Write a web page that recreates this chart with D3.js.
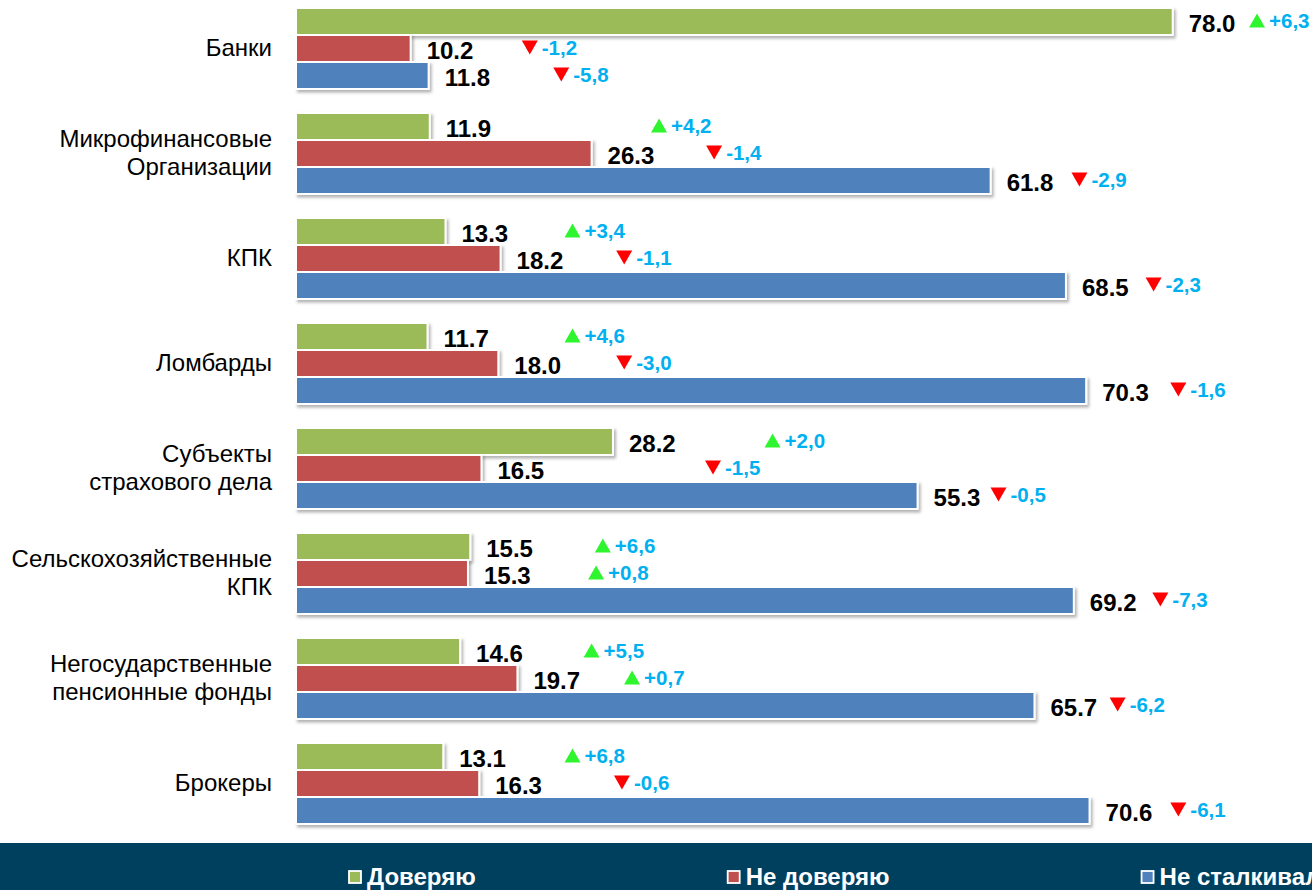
<!DOCTYPE html>
<html>
<head>
<meta charset="utf-8">
<script src="https://cdn.jsdelivr.net/npm/d3@7"></script>
<style>
  html, body { margin: 0; padding: 0; background: #fff; }
  svg { display: block; font-family: "Liberation Sans", Arial, sans-serif; }
</style>
</head>
<body>
<svg id="chart" width="1312" height="890"></svg>
<script>
// ---- data ----
const categories = [
  ["Банки"],
  ["Микрофинансовые", "Организации"],
  ["КПК"],
  ["Ломбарды"],
  ["Субъекты", "страхового дела"],
  ["Сельскохозяйственные", "КПК"],
  ["Негосударственные", "пенсионные фонды"],
  ["Брокеры"]
];
const seriesNames = ["Доверяю", "Не доверяю", "Не сталкивался"];
const trust    = [78.0, 11.9, 13.3, 11.7, 28.2, 15.5, 14.6, 13.1];
const distrust = [10.2, 26.3, 18.2, 18.0, 16.5, 15.3, 19.7, 16.3];
const notMet   = [11.8, 61.8, 68.5, 70.3, 55.3, 69.2, 65.7, 70.6];
// change vs previous period
const trustDelta    = [6.3, 4.2, 3.4, 4.6, 2.0, 6.6, 5.5, 6.8];
const distrustDelta = [-1.2, -1.4, -1.1, -3.0, -1.5, 0.8, 0.7, -0.6];
const notMetDelta   = [-5.8, -2.9, -2.3, -1.6, -0.5, -7.3, -6.2, -6.1];

// ---- layout (annotation anchor, in axis units) ----
const trustDeltaAt    = [85.5, 32.3, 24.6, 24.6, 42.4, 27.3, 26.3, 24.6];
const distrustDeltaAt = [20.8, 37.2, 29.2, 29.2, 37.1, 26.7, 29.9, 29.0];
const notMetDeltaAt   = [23.6, 69.7, 76.3, 78.5, 62.5, 76.9, 73.1, 78.5];

const colors = ["#9bbb59", "#c0504d", "#4f81bd"];
const values = [trust, distrust, notMet];
const deltas = [trustDelta, distrustDelta, notMetDelta];
const deltaAt = [trustDeltaAt, distrustDeltaAt, notMetDeltaAt];

const svg = d3.select("#chart");
const W = 1312, H = 890;

const defs = svg.append("defs");
const f = defs.append("filter").attr("id", "shadow")
  .attr("x", "-5%").attr("y", "-30%").attr("width", "115%").attr("height", "180%");
f.append("feDropShadow").attr("dx", 2).attr("dy", 2.5).attr("stdDeviation", 1.6)
  .attr("flood-color", "#000").attr("flood-opacity", 0.3);

const x = d3.scaleLinear().domain([0, 80]).range([296, 296 + 80 * 11.24]);
const y = d3.scaleBand().domain(d3.range(categories.length)).range([8, 824])
  .paddingInner(0.2286).paddingOuter(0);
const ySub = d3.scaleBand().domain(d3.range(3)).range([0, y.bandwidth()]);

const fmtVal = d3.format(".1f");
const fmtDelta = d => (d > 0 ? "+" : "-") + Math.abs(d).toFixed(1).replace(".", ",");

// category labels
const catG = svg.append("g");
categories.forEach((lines, i) => {
  const cy = y(i) + y.bandwidth() / 2 - 1;
  const lh = 27.5;
  const t = catG.append("text")
    .attr("x", 272).attr("text-anchor", "end")
    .attr("font-size", 24).attr("fill", "#000");
  lines.forEach((ln, k) => {
    t.append("tspan").attr("x", 272)
      .attr("y", cy + (k - (lines.length - 1) / 2) * lh)
      .attr("dy", "0.35em").text(ln);
  });
});

// bars
const groups = svg.append("g").selectAll("g.grp")
  .data(categories.map((c, i) => i)).join("g")
  .attr("transform", i => `translate(0,${y(i)})`);

groups.each(function(i) {
  const g = d3.select(this);
  for (let s = 0; s < 3; s++) {
    const v = values[s][i];
    g.append("rect")
      .attr("x", x(0)).attr("y", ySub(s))
      .attr("width", x(v) - x(0)).attr("height", ySub.bandwidth())
      .attr("fill", colors[s]).attr("stroke", "#fff").attr("stroke-width", 2)
      .attr("filter", "url(#shadow)");
  }
});

const triUp = "M0,-7L8,7L-8,7Z";
const triDown = "M-8,-7L8,-7L0,7Z";

groups.each(function(i) {
  const g = d3.select(this);
  for (let s = 0; s < 3; s++) {
    const v = values[s][i];
    const cy = ySub(s) + ySub.bandwidth() / 2;
    g.append("text")
      .attr("x", x(v) + 16).attr("y", cy + 2)
      .attr("dy", "0.35em")
      .attr("font-size", 24).attr("font-weight", "bold").attr("fill", "#000")
      .text(fmtVal(v));
    const d = deltas[s][i];
    const mx = x(deltaAt[s][i]);
    const my = cy - 1;
    const up = d > 0;
    g.append("path")
      .attr("d", up ? triUp : triDown)
      .attr("transform", `translate(${mx},${my})`)
      .attr("fill", up ? "#2ef52e" : "#ff0000");
    g.append("text")
      .attr("x", mx + 12).attr("y", my)
      .attr("dy", "0.35em")
      .attr("font-size", 20.5).attr("font-weight", "bold").attr("fill", "#00b0f0")
      .text(fmtDelta(d));
  }
});

// legend band
svg.append("rect").attr("x", 0).attr("y", 843).attr("width", W).attr("height", H - 843)
  .attr("fill", "#00405f");
const leg = svg.append("g");
let lx = 349;
seriesNames.forEach((name, s) => {
  leg.append("rect").attr("x", lx).attr("y", 871).attr("width", 12).attr("height", 12)
    .attr("fill", colors[s]).attr("stroke", "#fff").attr("stroke-width", 1.8);
  const t = leg.append("text").attr("x", lx + 18).attr("y", 885)
    .attr("font-size", 24).attr("font-weight", "bold").attr("fill", "#fff").text(name);
  lx = lx + 18 + t.node().getComputedTextLength() + 252;
});
</script>
</body>
</html>
